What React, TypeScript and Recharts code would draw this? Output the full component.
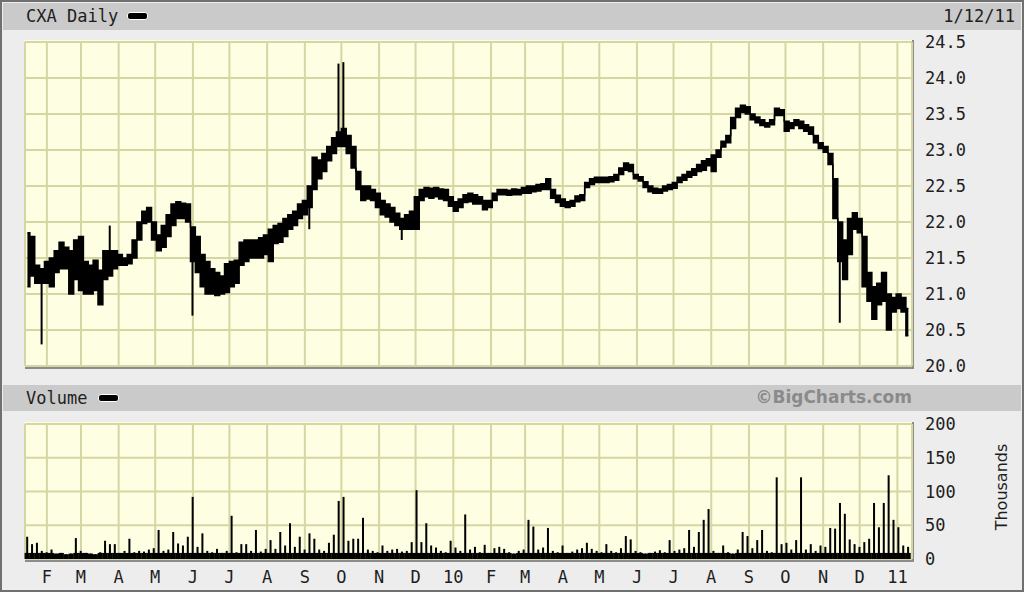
import { ComposedChart, Area, Bar, XAxis, YAxis, CartesianGrid } from 'recharts';

// CXA daily, mid-Jan 2009 .. 1/12/11, sampled every 4 calendar days
const STEP_DAYS = 4;

const MONTH_DAYS = [18, 46, 77, 107, 138, 168, 199, 230, 260, 291, 321, 352, 383, 411, 442, 472, 503, 533, 564, 595, 625, 656, 686, 717];
const MONTH_LABELS = ['F', 'M', 'A', 'M', 'J', 'J', 'A', 'S', 'O', 'N', 'D', '10', 'F', 'M', 'A', 'M', 'J', 'J', 'A', 'S', 'O', 'N', 'D', '11'];

const PRICE_TICKS = [20, 20.5, 21, 21.5, 22, 22.5, 23, 23.5, 24, 24.5];
const VOLUME_TICKS = [0, 50, 100, 150, 200];

// usual trading range of each sample
const LOW = [
  21.1, 21.25, 21.15, 21.15, 21.15, 21.1, 21.3, 21.35, 21.35, 21.0,
  21.2, 21.05, 21.0, 21.0, 21.05, 20.85, 21.2, 21.25, 21.35, 21.4,
  21.4, 21.42, 21.5, 21.75, 21.98, 22.0, 21.75, 21.6, 21.65, 21.8,
  21.95, 22.05, 22.05, 22.0, 21.45, 21.3, 21.1, 21.0, 21.0, 20.98,
  21.0, 21.02, 21.1, 21.15, 21.4, 21.45, 21.5, 21.5, 21.5, 21.55,
  21.45, 21.7, 21.72, 21.8, 21.9, 21.95, 22.05, 22.1, 22.2, 22.45,
  22.6, 22.7, 22.85, 22.95, 23.05, 23.05, 22.95, 22.75, 22.45, 22.3,
  22.32, 22.3, 22.2, 22.1, 22.07, 22.0, 21.95, 21.9, 21.9, 21.9,
  21.9, 22.3, 22.35, 22.33, 22.35, 22.32, 22.3, 22.22, 22.15, 22.2,
  22.27, 22.28, 22.25, 22.25, 22.17, 22.2, 22.3, 22.38, 22.38, 22.37,
  22.38, 22.38, 22.4, 22.4, 22.42, 22.43, 22.45, 22.45, 22.33, 22.27,
  22.22, 22.2, 22.22, 22.28, 22.3, 22.48, 22.52, 22.55, 22.55, 22.55,
  22.56, 22.58, 22.66, 22.72, 22.7, 22.6, 22.57, 22.48, 22.42, 22.4,
  22.4, 22.43, 22.45, 22.47, 22.55, 22.58, 22.62, 22.65, 22.7, 22.72,
  22.78, 22.7, 22.9, 23.04, 23.1, 23.3, 23.45, 23.52, 23.5, 23.42,
  23.38, 23.34, 23.32, 23.35, 23.48, 23.48, 23.26, 23.3, 23.34, 23.3,
  23.26, 23.22, 23.1, 23.02, 22.97, 22.8, 22.05, 21.45, 21.2, 21.55,
  21.9, 21.85, 21.1, 20.9, 20.65, 20.85, 20.9, 20.5, 20.75, 20.8,
  20.75, 20.42,
];

const HIGH = [
  21.85, 21.8, 21.4, 21.35, 21.45, 21.5, 21.6, 21.72, 21.65, 21.6,
  21.75, 21.8, 21.45, 21.4, 21.47, 21.33, 21.6, 21.6, 21.6, 21.55,
  21.5, 21.55, 21.75, 22.0, 22.15, 22.2, 22.0, 21.82, 21.95, 22.1,
  22.25, 22.28, 22.26, 22.25, 21.93, 21.8, 21.55, 21.45, 21.35, 21.3,
  21.25, 21.42, 21.45, 21.47, 21.72, 21.75, 21.75, 21.75, 21.78, 21.82,
  21.9, 21.95, 21.98, 22.05, 22.1, 22.15, 22.25, 22.3, 22.5, 22.9,
  22.86, 22.95, 23.05, 23.17, 23.25, 23.3, 23.2, 23.05, 22.7, 22.5,
  22.5, 22.45, 22.4, 22.3, 22.25, 22.2, 22.12, 22.05, 22.1, 22.15,
  22.35, 22.45, 22.48, 22.47, 22.48, 22.46, 22.45, 22.35, 22.28, 22.32,
  22.38, 22.4, 22.38, 22.35, 22.3, 22.3, 22.4, 22.45, 22.45, 22.44,
  22.46, 22.45, 22.48, 22.5, 22.5, 22.52, 22.53, 22.6, 22.45, 22.37,
  22.32, 22.28, 22.3, 22.36, 22.38, 22.55, 22.6, 22.62, 22.62, 22.62,
  22.63, 22.66, 22.75, 22.82, 22.8, 22.66, 22.63, 22.56, 22.5, 22.47,
  22.46, 22.5, 22.52, 22.55, 22.62, 22.66, 22.7, 22.74, 22.8, 22.85,
  22.88, 22.93, 23.0, 23.12, 23.2, 23.45, 23.58, 23.62, 23.6, 23.5,
  23.46, 23.42, 23.38, 23.42, 23.58, 23.56, 23.4, 23.38, 23.42, 23.4,
  23.35, 23.32, 23.2, 23.1, 23.05, 22.95, 22.6, 22.0, 21.75, 22.05,
  22.13, 22.05, 21.8, 21.3, 21.1, 21.15, 21.3, 21.0, 20.95, 21.0,
  20.95, 20.8,
];

// single-day spikes outside the usual range (sample index, low, high)
const WICK_INDEX = [3, 17, 34, 58, 64, 65, 77, 167];
const WICK_LOW = [20.3, null, 20.7, 21.9, null, null, 21.75, 20.6];
const WICK_HIGH = [null, 21.95, null, null, 24.2, 24.22, null, null];

// thousands of shares
const VOLUME = [
  33, 22, 24, 12, 10, 14, 8, 9, 7, 8,
  31, 12, 9, 8, 7, 10, 27, 22, 22, 9,
  12, 30, 10, 12, 11, 14, 16, 43, 12, 14,
  40, 23, 20, 33, 92, 18, 38, 12, 10, 15,
  9, 12, 64, 10, 22, 22, 12, 43, 11, 15,
  28, 15, 40, 20, 53, 18, 33, 14, 38, 30,
  14, 12, 24, 36, 86, 92, 27, 30, 30, 61,
  14, 12, 10, 20, 12, 14, 15, 11, 12, 25,
  102, 25, 53, 20, 17, 12, 10, 27, 17, 12,
  66, 14, 18, 10, 21, 9, 16, 18, 15, 10,
  8, 12, 14, 58, 48, 14, 17, 46, 12, 10,
  20, 9, 11, 14, 16, 24, 15, 12, 10, 22,
  12, 10, 16, 34, 29, 12, 10, 8, 9, 11,
  13, 10, 28, 12, 14, 16, 43, 18, 40, 58,
  74, 12, 9, 20, 10, 8, 14, 40, 34, 16,
  28, 43, 12, 10, 121, 22, 24, 14, 28, 121,
  14, 22, 12, 20, 18, 46, 45, 83, 67, 29,
  22, 18, 25, 30, 83, 47, 83, 124, 58, 47,
  20, 18,
];

// everyday trading floor drawn as a solid strip under the volume spikes
const VOLUME_FLOOR = 9;

const data = LOW.map((lo, i) => {
  const w = WICK_INDEX.indexOf(i);
  const hi = HIGH[i];
  return {
    day: i * STEP_DAYS + 2,
    range: [lo, hi],
    wick: w < 0 ? undefined : [WICK_LOW[w] ?? lo, WICK_HIGH[w] ?? hi],
    vol: VOLUME[i],
  };
});

const MONO = '"DejaVu Sans Mono", monospace';
const tickStyle = { fontFamily: MONO, fontSize: 17, fill: '#1e1e1e' };
const GRID = '#d6d6a4';
const PLOT_BG = '#fefee2';

// thin spike for the full volume plus a wider block for the floor part
const VolumeShape = (props: any) => {
  const { x, y, width, height, payload } = props;
  if (!height || height <= 0) return null;
  const cx = x + width / 2;
  const floorH = height * Math.min(1, VOLUME_FLOOR / payload.vol);
  return (
    <g>
      <rect x={cx - 1} y={y} width={2} height={height} fill="#000" />
      <rect x={cx - 2.6} y={y + height - floorH} width={5.2} height={floorH} fill="#000" />
    </g>
  );
};

const Swatch = ({ left, top }: { left: number; top: number }) => (
  <div
    style={{
      position: 'absolute', left, top, width: 19, height: 6,
      background: '#000', border: '1px solid #fff', borderRadius: 3,
    }}
  />
);

const PlotBox = ({ top, height }: { top: number; height: number }) => (
  <div
    style={{
      position: 'absolute', left: 25, top, width: 887, height,
      background: PLOT_BG, borderRight: '2px solid #8c8c8c', borderBottom: '2px solid #8c8c8c',
    }}
  />
);

export default function App() {
  return (
    <div
      style={{
        position: 'absolute', left: 0, top: 0, width: 1024, height: 592, overflow: 'hidden',
        background: '#ededed', boxShadow: 'inset 0 0 0 2px #707070', fontFamily: MONO,
      }}
    >
      {/* price header */}
      <div style={{ position: 'absolute', left: 3, top: 3, width: 1018, height: 27, background: '#cacaca' }} />
      <div style={{ position: 'absolute', left: 26, top: 6, fontSize: 17, color: '#1e1e1e' }}>CXA Daily</div>
      <Swatch left={127} top={12} />
      <div style={{ position: 'absolute', right: 9, top: 6, fontSize: 17, color: '#1e1e1e' }}>1/12/11</div>

      {/* volume header */}
      <div style={{ position: 'absolute', left: 3, top: 385, width: 1018, height: 26, background: '#cacaca' }} />
      <div style={{ position: 'absolute', left: 26, top: 388, fontSize: 17, color: '#1e1e1e' }}>Volume</div>
      <Swatch left={98} top={394} />
      <div
        style={{
          position: 'absolute', right: 112, top: 387, fontSize: 17, fontWeight: 'bold',
          fontFamily: '"DejaVu Sans", sans-serif', color: '#8a8a8a',
        }}
      >
        ©BigCharts.com
      </div>

      <PlotBox top={40} height={327} />
      <PlotBox top={422} height={138} />

      <div style={{ position: 'absolute', left: 0, top: 0 }}>
        <ComposedChart width={1024} height={380} data={data} margin={{ top: 42, right: 0, bottom: 14, left: 25 }}>
          <CartesianGrid stroke={GRID} strokeWidth={2} />
          <XAxis type="number" dataKey="day" domain={[0, 729]} ticks={MONTH_DAYS} hide />
          <YAxis
            orientation="right"
            domain={[20, 24.5]}
            ticks={PRICE_TICKS}
            width={112}
            axisLine={false}
            tickLine={false}
            tickSize={0}
            tickMargin={13}
            tick={tickStyle}
            tickFormatter={(v: number) => v.toFixed(1)}
          />
          <Area
            dataKey="range"
            type="step"
            fill="#000"
            fillOpacity={1}
            stroke="#000"
            strokeWidth={1.5}
            dot={false}
            activeDot={false}
            isAnimationActive={false}
          />
          <Bar dataKey="wick" fill="#000" barSize={2} isAnimationActive={false} />
        </ComposedChart>
      </div>

      <div style={{ position: 'absolute', left: 0, top: 380 }}>
        <ComposedChart width={1024} height={212} data={data} margin={{ top: 44, right: 0, bottom: 3, left: 25 }}>
          <CartesianGrid stroke={GRID} strokeWidth={2} />
          <XAxis
            type="number"
            dataKey="day"
            domain={[0, 729]}
            ticks={MONTH_DAYS}
            interval={0}
            height={30}
            axisLine={false}
            tickLine={false}
            tickSize={0}
            tickMargin={12}
            tick={tickStyle}
            tickFormatter={(v: number) => MONTH_LABELS[MONTH_DAYS.indexOf(v)]}
          />
          <YAxis
            orientation="right"
            domain={[0, 200]}
            ticks={VOLUME_TICKS}
            width={112}
            axisLine={false}
            tickLine={false}
            tickSize={0}
            tickMargin={13}
            tick={tickStyle}
          />
          <Bar dataKey="vol" fill="#000" barSize={5} shape={VolumeShape} isAnimationActive={false} />
        </ComposedChart>
      </div>

      <div
        style={{
          position: 'absolute', left: 1001, top: 487, transform: 'translate(-50%, -50%) rotate(-90deg)',
          fontFamily: '"DejaVu Sans", sans-serif', fontSize: 16, color: '#1e1e1e', whiteSpace: 'nowrap',
        }}
      >
        Thousands
      </div>
    </div>
  );
}
